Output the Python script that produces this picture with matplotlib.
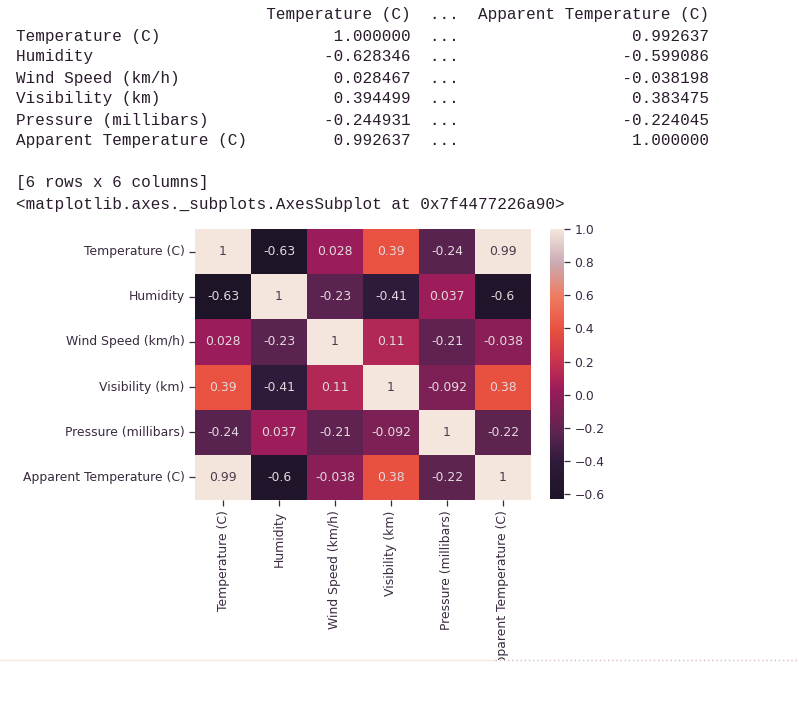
import numpy as np
import pandas as pd
import seaborn as sns
import matplotlib
matplotlib.use("Agg")
import matplotlib.pyplot as plt
from matplotlib.colors import LinearSegmentedColormap
from matplotlib.lines import Line2D
from matplotlib.patches import Rectangle

labels = ["Temperature (C)", "Humidity", "Wind Speed (km/h)", "Visibility (km)",
          "Pressure (millibars)", "Apparent Temperature (C)"]

temperature = [1.000000, -0.628346, 0.028467, 0.394499, -0.244931, 0.992637]
humidity = [-0.628346, 1, -0.23, -0.41, 0.037, -0.599086]
wind_speed = [0.028467, -0.23, 1, 0.11, -0.21, -0.038198]
visibility = [0.394499, -0.41, 0.11, 1, -0.092, 0.383475]
pressure = [-0.244931, 0.037, -0.21, -0.092, 1, -0.224045]
apparent = [0.992637, -0.599086, -0.038198, 0.383475, -0.224045, 1.000000]

corr = pd.DataFrame([temperature, humidity, wind_speed, visibility, pressure, apparent],
                    index=labels, columns=labels)

# colours, it has a washed out version of rocket
cbar_levels = [-0.628346, -0.41, -0.23, 0.03, 0.2, 0.39, 0.6, 0.8, 1.0]
cbar_colors = ["#1e1428", "#2e1a3a", "#5c2450", "#9b1c5a", "#c8324f", "#e9503f",
               "#ee7d62", "#cbaab4", "#f4e6dd"]

W, H = 799, 705
TEXT = "#2a1c2c"
TICK = "#3a2a40"
FS = 8.95

fig = plt.figure(figsize=(W / 100, H / 100), dpi=100)


def box(x0, y0, x1, y1):
    # pixel box (top-left origin) to figure fractions
    return [x0 / W, 1 - y1 / H, (x1 - x0) / W, (y1 - y0) / H]


# printed dataframe above the heatmap
out = [" " * 26 + "Temperature (C)  ...  " + "Apparent Temperature (C)".rjust(24)]
for name, a, b in zip(labels, temperature, apparent):
    out.append(f"{name:<24}  {a:>15.6f}  ...  {b:>24.6f}")
out.append("")
out.append("[6 rows x 6 columns]")
out.append("<matplotlib.axes._subplots.AxesSubplot at 0x7f4477226a90>")
for i, line in enumerate(out):
    fig.text(16 / W, 1 - (15 + 21 * i) / H, line, family="Liberation Mono",
             fontsize=11.52, color=TEXT, va="center", ha="left")

vmin, vmax = cbar_levels[0], cbar_levels[-1]
cmap = LinearSegmentedColormap.from_list(
    "washed_rocket", [((v - vmin) / (vmax - vmin), c) for v, c in zip(cbar_levels, cbar_colors)])

ax = fig.add_axes(box(195, 229, 531, 500))
cax = fig.add_axes(box(550, 229, 564, 499))
sns.heatmap(corr, annot=True, ax=ax, cbar_ax=cax, cmap=cmap, vmin=vmin, vmax=vmax,
            annot_kws={"fontsize": FS})

# annotation text is softer than pure black/white in the reference
for t, v in zip(ax.texts, corr.values.ravel()):
    t.set_color("#4a3a4c" if v > 0.6 else "#e2dade")

ax.tick_params(labelsize=FS, colors=TICK, length=4, width=0.9)
ax.set_xticklabels(labels, rotation=90)
ax.set_yticklabels(labels, rotation=0)
cax.tick_params(labelsize=FS, colors=TICK, length=4, width=0.9)
cax.set_yticks(np.arange(-0.6, 1.01, 0.2))

# notebook cell border and everything below it
fig.add_artist(Rectangle((0, 0), 1, 1 - 660 / H, transform=fig.transFigure,
                         facecolor="white", edgecolor="none", zorder=10))
fig.add_artist(Line2D([0, 495 / W], [1 - 660 / H] * 2, color="#f7e6dc", lw=1, zorder=11))
fig.add_artist(Line2D([495 / W, 1], [1 - 660 / H] * 2, color="#d8b8c4", lw=1,
                      ls=(0, (1, 2)), zorder=11))

fig.savefig("out.png", dpi=100)
